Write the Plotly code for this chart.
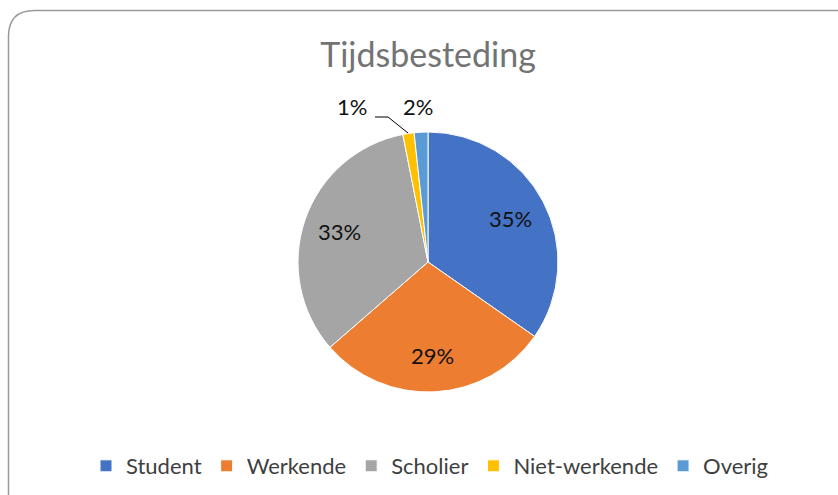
import math
import plotly.graph_objects as go

categories = ["Student", "Werkende", "Scholier", "Niet-werkende", "Overig"]
values = [34.7, 28.9, 33.3, 1.4, 1.7]
colors = ["#4472C4", "#ED7D31", "#A5A5A5", "#FFC000", "#5B9BD5"]
title_text = "Tijdsbesteding"

W, H = 838, 495
FONT = "Lato, 'Open Sans', sans-serif"

# pie geometry (pixels)
CX, CY, R = 428, 262, 130

total = sum(values)
pct = [v / total for v in values]
labels_txt = [f"{round(100 * p)}%" for p in pct]

fig = go.Figure(go.Pie(
    labels=categories,
    values=values,
    textinfo="none",
    sort=False,
    direction="clockwise",
    rotation=0,
    marker=dict(colors=colors, line=dict(color="white", width=1)),
    domain=dict(x=[(CX - R) / W, (CX + R) / W], y=[1 - (CY + R) / H, 1 - (CY - R) / H]),
    hoverinfo="label+percent",
))

def px(x): return x / W
def py(y): return 1 - y / H

# inside data labels, placed along each slice's bisector (Excel "best fit")
cum = 0.0
for i, p in enumerate(pct):
    mid = (cum + p / 2) * 2 * math.pi
    cum += p
    if p >= 0.05:
        rr = 0.72 * R
        x = CX + rr * math.sin(mid)
        y = CY - rr * math.cos(mid)
        fig.add_annotation(x=px(x), y=py(y), xref="paper", yref="paper",
                           text=labels_txt[i], showarrow=False,
                           font=dict(family=FONT, size=22, color="#111111"),
                           xanchor="center", yanchor="middle")

# outside labels for the two small slices
small_pos = {3: (352, 106), 4: (418, 106)}
for i, (lx, ly) in small_pos.items():
    fig.add_annotation(x=px(lx), y=py(ly), xref="paper", yref="paper",
                       text=labels_txt[i], showarrow=False,
                       font=dict(family=FONT, size=22, color="#111111"),
                       xanchor="center", yanchor="middle")
# leader line for Niet-werkende
fig.add_shape(type="path", xref="paper", yref="paper",
              path=f"M {px(375)},{py(117)} L {px(388)},{py(117)} L {px(408)},{py(133)}",
              line=dict(color="black", width=1))

# rounded chart border (clipped by window at right/bottom)
r = 26
x0, y0 = 8.5, 10.5
x1, y1 = 860, 520
path = (f"M {px(x0)},{py(y1)} L {px(x0)},{py(y0 + r)} "
        f"Q {px(x0)},{py(y0)} {px(x0 + r)},{py(y0)} L {px(x1)},{py(y0)}")
fig.add_shape(type="path", xref="paper", yref="paper", path=path,
              line=dict(color="#9a9a9a", width=1.5))

fig.update_layout(
    width=W, height=H,
    margin=dict(l=0, r=0, t=0, b=0),
    paper_bgcolor="white",
    plot_bgcolor="white",
    title=dict(text=title_text, x=px(428), y=py(55), xanchor="center", yanchor="middle",
               font=dict(family=FONT, size=34, color="#737373")),
    showlegend=True,
    legend=dict(orientation="h", x=px(430), y=py(466), xanchor="center", yanchor="middle",
                font=dict(family=FONT, size=22, color="#404040"),
                itemwidth=30, traceorder="normal", bgcolor="rgba(0,0,0,0)"),
)

fig.write_html("out.html", config={"displayModeBar": False},
               post_script="document.body.style.margin='0';")
